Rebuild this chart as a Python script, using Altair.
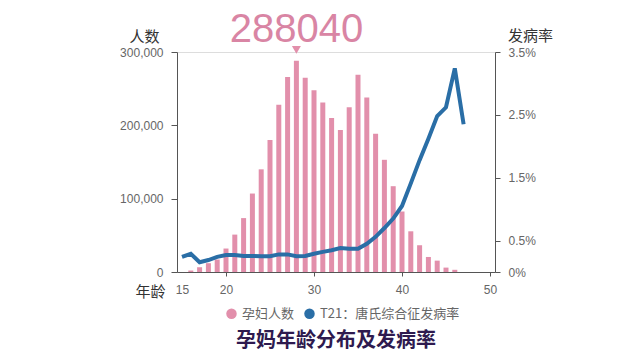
import altair as alt
import pandas as pd

# Data
ages = list(range(16, 47))
counts = [2000, 6500, 12000, 17000, 32000, 51000, 73500, 107000, 140000, 180000,
          228000, 266000, 288040, 265000, 248000, 231000, 210000, 193500, 224500, 269000,
          238000, 188500, 153000, 117000, 82500, 55500, 36500, 20500, 15500, 6000, 3000]

rate_ages = list(range(15, 48))
rates = [0.24, 0.29, 0.155, 0.19, 0.24, 0.27, 0.27, 0.255, 0.255, 0.25, 0.25, 0.28, 0.28,
         0.25, 0.255, 0.29, 0.32, 0.345, 0.38, 0.37, 0.37, 0.45, 0.56, 0.70, 0.85, 1.05,
         1.41, 1.78, 2.12, 2.48, 2.62, 3.24, 2.35]

series = ["孕妇人数", "T21：唐氏综合征发病率"]
colors = ["#e28fab", "#2a6ea6"]

peak_age = 28
peak_val = 288040

bar_df = pd.DataFrame({"age": ages, "count": counts, "s": series[0]})
line_df = pd.DataFrame({"age": rate_ages, "rate": [r / 100 for r in rates], "s": series[1]})
peak_df = pd.DataFrame({"age": [peak_age], "count": [peak_val], "label": [str(peak_val)]})

CJK = "Noto Sans CJK SC"
NUM = "Liberation Sans"
AX = "#555555"
LAB = "#666666"

xscale = alt.Scale(domain=[15, 50], nice=False, zero=False)
xaxis = alt.Axis(values=[15, 20, 30, 40, 50], title="年龄", titleAngle=0,
                 titleX=-27, titleY=24, titleAlign="center", titleBaseline="alphabetic",
                 titleFont=CJK, titleFontSize=15, titleFontWeight="normal", titleColor="#333333",
                 labelFont=NUM, labelFontSize=12, labelColor=LAB, labelPadding=8,
                 tickOpacity={"condition": {"test": "datum.value == 15", "value": 0}, "value": 1},
                 tickSize=4, tickColor=AX, domainColor=AX, grid=False)

yscale = alt.Scale(domain=[0, 300000], nice=False)
yaxis = alt.Axis(orient="left", values=[0, 100000, 200000, 300000], format=",.0f",
                 title="人数", titleAngle=0, titleX=-33, titleY=-11,
                 titleAlign="center", titleBaseline="alphabetic",
                 titleFont=CJK, titleFontSize=15, titleFontWeight="normal",
                 titleColor="#333333",
                 labelFont=NUM, labelFontSize=12, labelColor=LAB, labelPadding=8,
                 tickSize=6, tickColor=AX, domainColor=AX, grid=False)

color = alt.Color("s:N", scale=alt.Scale(domain=series, range=colors),
                  legend=alt.Legend(title=None, orient="none", direction="horizontal",
                                    legendX=48, legendY=255, symbolType="circle",
                                    symbolSize=110, symbolStrokeWidth=0,
                                    labelFont=CJK, labelFontSize=13, labelColor=LAB,
                                    columnPadding=8, labelOffset=4))

bars = alt.Chart(bar_df).mark_bar(size=5).encode(
    x=alt.X("age:Q", scale=xscale, axis=xaxis),
    y=alt.Y("count:Q", scale=yscale, axis=yaxis, title="人数"),
    color=color,
)

tri = alt.Chart(peak_df).mark_point(shape="triangle-down", filled=True, size=80,
                                    color="#e28fab", opacity=1, yOffset=-11).encode(
    x=alt.X("age:Q", scale=xscale, axis=xaxis),
    y=alt.Y("count:Q", scale=yscale, axis=yaxis, title="人数"),
)

txt = alt.Chart(peak_df).mark_text(font=NUM, fontSize=40, color="#d985a4",
                                   baseline="alphabetic", align="center", dy=-19).encode(
    x=alt.X("age:Q", scale=xscale, axis=xaxis),
    y=alt.Y("count:Q", scale=yscale, axis=yaxis, title="人数"),
    text="label:N",
)

line = alt.Chart(line_df).mark_line(strokeWidth=4, strokeJoin="miter").encode(
    x=alt.X("age:Q", scale=xscale, axis=xaxis),
    y=alt.Y("rate:Q", scale=alt.Scale(domain=[0, 0.035], nice=False),
            axis=alt.Axis(orient="right", values=[0, 0.005, 0.015, 0.025, 0.035],
                          format=".1~%", title="发病率", titleAngle=0, titleX=35, titleY=-12,
                          titleAlign="center", titleBaseline="alphabetic",
                          titleFont=CJK, titleFontSize=15, titleFontWeight="normal",
                          titleColor="#333333",
                          labelFont=NUM, labelFontSize=12, labelColor=LAB, labelPadding=8,
                          tickSize=5, tickColor=AX, domainColor=AX, grid=False)),
    color=color,
)

chart = alt.layer(alt.layer(bars, tri, txt), line).resolve_scale(y="independent").properties(
    width=318, height=220,
    autosize=alt.AutoSizeParams(type="none"),
    padding={"left": 177, "top": 52, "right": 145, "bottom": 88},
    title=alt.TitleParams("孕妈年龄分布及发病率", orient="bottom", anchor="middle",
                          font=CJK, fontSize=20, fontWeight="bold", color="#2e1a4f",
                          offset=10),
).configure_view(stroke=None).configure(background="white")

chart.save("out.html", embed_options={"renderer": "svg", "actions": False})
